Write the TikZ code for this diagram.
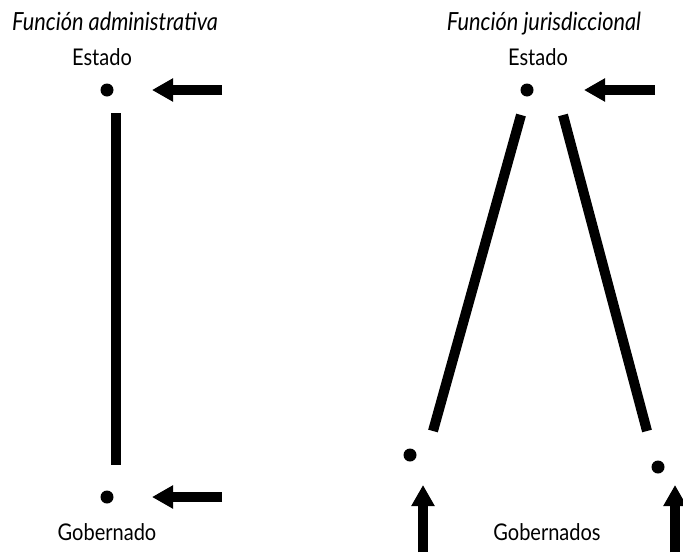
\documentclass[tikz,border=0pt]{standalone}
\usepackage{fontspec}
\setmainfont{Lato}[FakeStretch=0.87]
\usetikzlibrary{arrows.meta}
\tikzset{
  dot/.style={circle,fill=black,inner sep=0pt,minimum size=13pt},
  bar/.style={line width=10pt,line cap=butt},
  bigarrow/.style={line width=10pt,-{Triangle[length=21pt,width=22pt]}},
  lbl/.style={anchor=base,inner sep=0pt,font=\fontsize{23}{27}\selectfont},
  ttl/.style={anchor=base,inner sep=0pt,font=\fontsize{25}{29}\selectfont\itshape},
}
\begin{document}
\begin{tikzpicture}[x=1pt,y=-1pt]
\useasboundingbox (0,0) rectangle (683,552);
% left diagram
\node[ttl] (t1) at (115,30) {Función administrativa};
\node[lbl] (e1) at (102,65) {Estado};
\node[dot] (d1) at (107,90) {};
\node[dot] (d2) at (107,497) {};
\node[lbl] (g1) at (107,540) {Gobernado};
\coordinate (v1a) at (116,113);
\coordinate (v1b) at (116,465);
\draw[bar] (v1a) -- (v1b);
\coordinate (a1s) at (222,90);
\coordinate (a1e) at (152,90);
\draw[bigarrow] (a1s) -- (a1e);
\coordinate (a2s) at (222,497);
\coordinate (a2e) at (152,497);
\draw[bigarrow] (a2s) -- (a2e);
% right diagram
\node[ttl] (t2) at (544,30) {Función jurisdiccional};
\node[lbl] (e2) at (538,65) {Estado};
\node[dot] (d3) at (527,90) {};
\node[dot] (d4) at (410,455) {};
\node[dot] (d5) at (658,467) {};
\node[lbl] (g2) at (547,540) {Gobernados};
\coordinate (l1a) at (521,115);
\coordinate (l1b) at (433,431);
\draw[bar] (l1a) -- (l1b);
\coordinate (l2a) at (563,115);
\coordinate (l2b) at (647,431);
\draw[bar] (l2a) -- (l2b);
\coordinate (a3s) at (655,90);
\coordinate (a3e) at (584,90);
\draw[bigarrow] (a3s) -- (a3e);
\coordinate (a4s) at (423,552);
\coordinate (a4e) at (423,485);
\draw[bigarrow] (a4s) -- (a4e);
\coordinate (a5s) at (675,552);
\coordinate (a5e) at (675,485);
\draw[bigarrow] (a5s) -- (a5e);
\end{tikzpicture}
\end{document}
